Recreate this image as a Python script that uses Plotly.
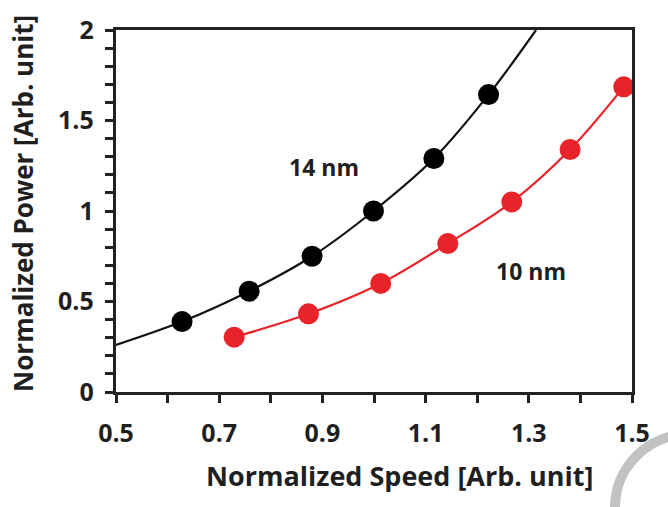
import plotly.graph_objects as go

# Data
speed_14nm = [0.628, 0.758, 0.880, 0.999, 1.116, 1.222]
power_14nm = [0.389, 0.557, 0.750, 1.000, 1.290, 1.643]
# fitted curve extends to the plot edges
fit14_x = [0.50, 0.628, 0.758, 0.880, 0.999, 1.116, 1.222, 1.314]
fit14_y = [0.26, 0.389, 0.557, 0.750, 1.000, 1.290, 1.643, 2.000]

speed_10nm = [0.729, 0.873, 1.013, 1.143, 1.267, 1.380, 1.484]
power_10nm = [0.303, 0.432, 0.600, 0.820, 1.050, 1.340, 1.686]

x_ticks = [0.5, 0.7, 0.9, 1.1, 1.3, 1.5]
y_ticks = [0, 0.5, 1, 1.5, 2]
y_labels = ["0", "0.5", "1", "1.5", "2"]

FONT = "Open Sans"
TXT = "#1f1f1f"
fig = go.Figure()

fig.add_trace(go.Scatter(x=fit14_x, y=fit14_y, mode="lines", line=dict(color="#111111", width=2.2, shape="spline"),
                         showlegend=False, hoverinfo="skip"))
fig.add_trace(go.Scatter(x=speed_14nm, y=power_14nm, mode="markers",
                         marker=dict(color="#000000", size=21), showlegend=False, name="14 nm"))
fig.add_trace(go.Scatter(x=speed_10nm, y=power_10nm, mode="lines+markers",
                         line=dict(color="#e8232a", width=2.2, shape="spline"),
                         marker=dict(color="#e8232a", size=21), showlegend=False, name="10 nm"))

axis_common = dict(showline=True, linecolor="#222222", linewidth=2.5, mirror=True,
                   ticks="outside", ticklen=8, tickwidth=2.5, tickcolor="#222222",
                   showgrid=False, zeroline=False,
                   tickfont=dict(family=FONT, size=25, color=TXT, weight="bold"))

fig.update_xaxes(range=[0.5, 1.5], tickvals=x_ticks, ticktext=[f"{v:.1f}" for v in x_ticks],
                 ticklabelstandoff=9,
                 minor=dict(dtick=0.1, tick0=0.5, ticks="outside", ticklen=8, tickwidth=2.5, tickcolor="#222222"),
                 **axis_common)
fig.update_yaxes(range=[0, 2], tickvals=y_ticks, ticktext=[t + "\u00a0" for t in y_labels],
                 minor=dict(dtick=0.1, tick0=0, ticks="outside", ticklen=8, tickwidth=2.5, tickcolor="#222222"),
                 **axis_common)

fig.add_annotation(x=0.903, y=1.243, text="14 nm", showarrow=False,
                   font=dict(family=FONT, size=23, color=TXT, weight="bold"))
fig.add_annotation(x=1.304, y=0.67, text="10 nm", showarrow=False,
                   font=dict(family=FONT, size=23, color=TXT, weight="bold"))

fig.add_annotation(xref="paper", yref="paper", x=0.55, y=-0.23, yanchor="middle",
                   text="Normalized Speed [Arb. unit]", showarrow=False,
                   font=dict(family=FONT, size=27, color=TXT, weight="bold"))
fig.add_annotation(xref="paper", yref="paper", x=-0.18, y=0.52, xanchor="center",
                   text="Normalized Power [Arb. unit]", showarrow=False, textangle=-90,
                   font=dict(family=FONT, size=26, color=TXT, weight="bold"))

# decorative grey arc in the corner
fig.add_shape(type="circle", xref="paper", yref="paper", x0=0.967, x1=1.258, y0=-0.522, y1=-0.116,
              line=dict(color="#c2c2c2", width=10), layer="below")

fig.update_layout(width=668, height=507, margin=dict(l=116, r=36, t=22, b=115),
                  paper_bgcolor="white", plot_bgcolor="white")
fig.write_html("out.html")
